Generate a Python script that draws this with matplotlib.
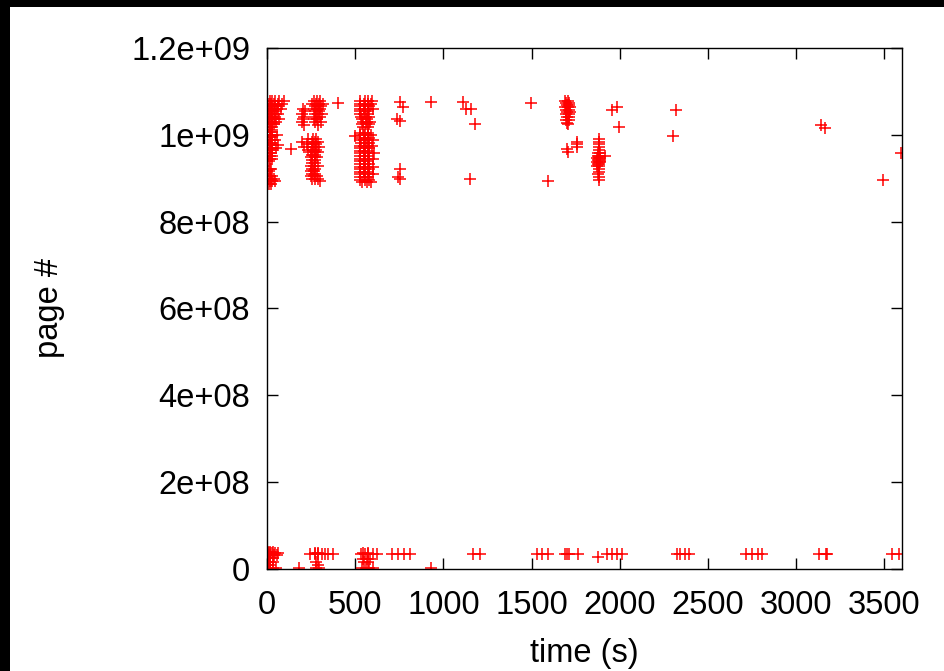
import matplotlib
matplotlib.use("Agg")
import matplotlib.pyplot as plt
from matplotlib.patches import Rectangle
import numpy as np

plt.rcParams['font.family'] = ['Liberation Sans', 'DejaVu Sans']

# Page accesses, grouped by page number (in millions) -> access times (s)
upper_rows = [
    # burst near t=0
    (1078, [2, 15, 30, 48, 70, 95]),
    (1072, [2, 12, 25, 40, 60, 85]),
    (1066, [2, 15, 30, 45, 65]),
    (1060, [2, 12, 28, 42, 58, 80]),
    (1054, [2, 15, 30, 50]),
    (1048, [2, 12, 25, 40, 62]),
    (1042, [2, 15, 30, 48]),
    (1036, [2, 12, 28, 45, 70]),
    (1030, [2, 15, 30, 50]),
    (1024, [2, 12, 28, 42]),
    (1018, [2, 15, 30]),
    (1012, [2, 15]),
    (1006, [2, 15, 30]),
    (1000, [2, 15, 30, 55]),
    (994, [2, 15, 28]),
    (988, [2, 12, 25, 45]),
    (982, [2, 15, 30]),
    (976, [2, 12, 25, 60]),
    (970, [2, 15, 30, 50]),
    (967, [135]),
    (964, [2, 15, 28]),
    (958, [2, 12, 25]),
    (952, [2, 15, 30]),
    (945, [2, 15, 28]),
    (940, [2, 12]),
    (922, [2, 15, 25]),
    (917, [2, 12]),
    (905, [2, 15, 30]),
    (899, [2, 12, 25, 40]),
    (893, [2, 15, 30, 45]),
    (887, [2, 12, 25]),
]

burst_250_rows = [
    (1078, [265, 285, 300]),
    (1072, [255, 280, 295, 315]),
    (1066, [270, 290, 305]),
    (1060, [205, 265, 285, 300]),
    (1054, [215, 275, 295]),
    (1048, [200, 270, 290, 310]),
    (1042, [210, 280, 300]),
    (1036, [205, 265, 285]),
    (1030, [200, 275, 305]),
    (1022, [210, 290]),
    (990, [230, 260, 280]),
    (984, [200, 255, 275, 290]),
    (978, [225, 260, 280]),
    (972, [210, 255, 275, 295]),
    (966, [230, 260, 280]),
    (960, [250, 270, 290]),
    (954, [255, 275]),
    (948, [250, 270, 285]),
    (941, [255, 270]),
    (935, [255, 270]),
    (929, [250, 265, 290]),
    (922, [255, 270]),
    (916, [250, 265]),
    (910, [255, 270]),
    (904, [250, 265, 285]),
    (898, [255, 270, 290]),
    (893, [300]),
]

burst_560_rows = [
    (1078, [530, 555, 575, 595]),
    (1072, [525, 550, 570, 590]),
    (1066, [530, 555, 580]),
    (1060, [525, 550, 570, 600]),
    (1054, [530, 555, 575]),
    (1048, [525, 550, 570]),
    (1042, [535, 560, 580]),
    (1036, [540, 565]),
    (1030, [545, 565, 585]),
    (1024, [540, 560, 580]),
    (1018, [545, 570]),
    (1005, [530, 555, 575]),
    (999, [525, 550, 570, 590]),
    (993, [530, 555, 580]),
    (987, [525, 550, 575, 600]),
    (981, [535, 560, 580]),
    (975, [525, 550, 570, 595]),
    (969, [530, 555, 580]),
    (963, [525, 550, 575]),
    (957, [530, 555, 580, 605]),
    (951, [525, 550, 575]),
    (945, [530, 555, 580, 600]),
    (939, [525, 550, 575]),
    (933, [530, 555, 580]),
    (927, [525, 550, 575, 600]),
    (921, [530, 555, 580]),
    (915, [525, 550, 575]),
    (909, [530, 555, 580, 600]),
    (903, [525, 550, 575]),
    (897, [530, 555, 580]),
    (891, [540, 565, 590]),
]

burst_1700_rows = [
    (1078, [1690, 1705]),
    (1073, [1695, 1710]),
    (1068, [1700, 1715]),
    (1063, [1690, 1705, 1720]),
    (1058, [1695, 1710]),
    (1053, [1700, 1720]),
    (1047, [1695, 1710]),
    (1041, [1700, 1715]),
    (1035, [1695, 1710]),
    (1028, [1700]),
    (1024, [1705]),
    (983, [1755]),
    (978, [1755]),
    (973, [1755]),
    (967, [1699]),
    (961, [1705]),
]

burst_1880_rows = [
    (990, [1880]),
    (984, [1880]),
    (978, [1880]),
    (971, [1880]),
    (965, [1880]),
    (958, [1875, 1890]),
    (952, [1875, 1885, 1915]),
    (947, [1870, 1880, 1890]),
    (943, [1875, 1885]),
    (938, [1870, 1880, 1890]),
    (933, [1875, 1885]),
    (928, [1870, 1880]),
    (922, [1880]),
    (915, [1880]),
    (909, [1875]),
    (902, [1880]),
    (895, [1880]),
]

# scattered accesses in the upper region: (time s, page in millions)
upper_single_t = [402, 498, 753, 770, 736, 753, 753, 742, 753, 929,
                  1110, 1127, 1155, 1178, 1150, 1495, 1591,
                  1954, 1982, 1993, 2316, 2299, 3143, 3166, 3494, 3596]
upper_single_p = [1073, 997, 1075, 1064, 1036, 1032, 921, 902, 898, 1075,
                  1075, 1059, 1059, 1025, 898, 1073, 893,
                  1057, 1064, 1018, 1057, 997, 1022, 1015, 895, 958]

# low page numbers
lower_rows = [
    (40, [5, 20, 35]),
    (38, [545, 570]),
    (36, [5, 15, 30, 45, 60, 275, 290]),
    (34, [243, 272, 289, 311, 328, 345, 374,
          535, 555, 575, 600, 625,
          708, 742, 776, 810,
          1167, 1206, 1529, 1557, 1591,
          1690, 1700, 1710, 1761,
          1925, 1954, 1982, 2010,
          2322, 2339, 2367, 2395,
          2718, 2752, 2781, 2809,
          3132, 3171, 3177, 3545, 3585]),
    (33, [5, 20, 40, 55]),
    (28, [1874]),
    (25, [5, 20, 35]),
    (22, [545, 565, 585]),
    (17, [5, 20, 35, 280, 550, 575]),
    (10, [5, 20, 290]),
    (3, [5, 20, 35, 50, 181, 280, 295, 540, 560, 580, 600]),
    (2, [929]),
]

row_groups = [upper_rows, burst_250_rows, burst_560_rows,
              burst_1700_rows, burst_1880_rows, lower_rows]

times, pages = [], []
for rows in row_groups:
    for page_m, ts in rows:
        for t in ts:
            times.append(t)
            pages.append(page_m * 1e6)
times += upper_single_t
pages += [p * 1e6 for p in upper_single_p]

fig = plt.figure(figsize=(9.45, 6.71), dpi=100)
ax = fig.add_axes([0.2825, 0.152, 0.672, 0.7765])

ax.plot(times, pages, linestyle='none', marker='+', color='#ff0000',
        markersize=8.2, markeredgewidth=1.1, clip_on=True)

ax.set_xlim(0, 3600)
ax.set_ylim(0, 1.2e9)
ax.set_xticks([0, 500, 1000, 1500, 2000, 2500, 3000, 3500])
ax.set_yticks([0, 2e8, 4e8, 6e8, 8e8, 1e9, 1.2e9])
ax.set_yticklabels(['0', '2e+08', '4e+08', '6e+08', '8e+08', '1e+09', '1.2e+09'])

ax.tick_params(direction='in', length=8, width=1, top=True, right=True,
               labelsize=23.5, colors='black')
ax.tick_params(axis='x', pad=15)
ax.tick_params(axis='y', pad=12)
for s in ax.spines.values():
    s.set_linewidth(1)
    s.set_color('black')

ax.set_xlabel('time (s)', fontsize=23.5)
ax.set_ylabel('page #', fontsize=23.5)
ax.xaxis.set_label_coords(0.5, -0.132)
ax.yaxis.set_label_coords(-0.318, 0.5)

# dark frame strip along the top and left edges
fig.patches.append(Rectangle((0, 1 - 7 / 671), 1, 7 / 671, transform=fig.transFigure,
                             facecolor='black', linewidth=0, zorder=10))
fig.patches.append(Rectangle((0, 0), 10 / 945, 1, transform=fig.transFigure,
                             facecolor='black', linewidth=0, zorder=10))

fig.savefig('out.png', dpi=100, facecolor='white')
